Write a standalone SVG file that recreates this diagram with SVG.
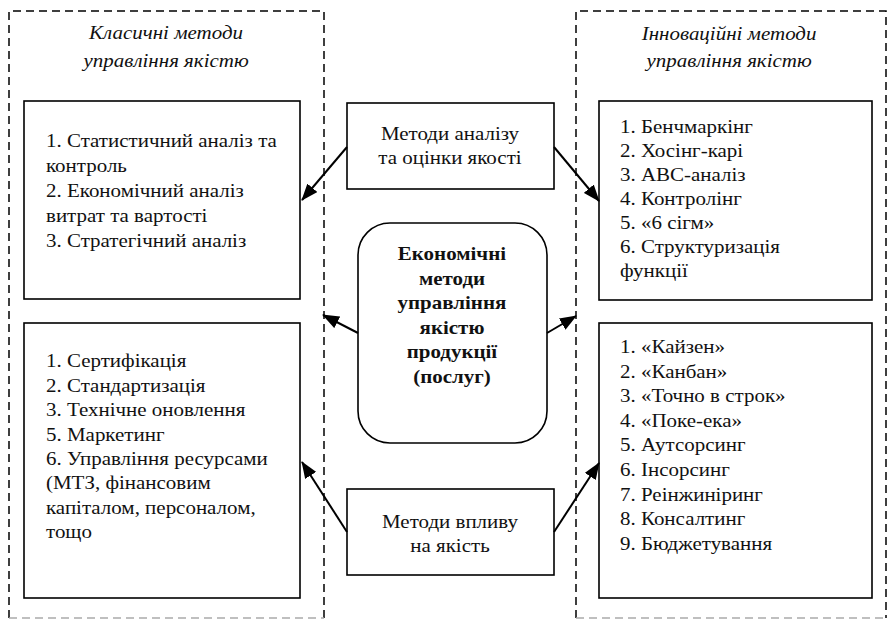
<svg xmlns="http://www.w3.org/2000/svg" width="889" height="619" viewBox="0 0 889 619">
<defs>
<style>
.tx{font-family:"Liberation Serif","Times New Roman",serif;font-size:18px;fill:#111}
text{transform-box:fill-box;transform-origin:0% 50%;transform:scaleX(1.165)}
.i{font-style:italic;text-anchor:middle;transform-origin:50% 50%}
.c{text-anchor:middle;transform-origin:50% 50%}
.b{font-weight:bold;text-anchor:middle;transform-origin:50% 50%}
.box{fill:#fff;stroke:#000;stroke-width:1.6}
.dash{fill:none;stroke:#000;stroke-width:1.5;stroke-dasharray:8 5}
.dashg{fill:none;stroke:#aaa;stroke-width:1.5;stroke-dasharray:8 5}
.arr{fill:none;stroke:#000;stroke-width:2;marker-end:url(#ah)}
</style>
<marker id="ah" markerUnits="userSpaceOnUse" markerWidth="17" markerHeight="13" refX="16" refY="6.5" orient="auto">
<path d="M0,0 L17,6.5 L0,13 Z" fill="#000"/>
</marker>
</defs>
<g class="tx">
<g id="classic-container">
<path class="dash" d="M9,618 V11 H324 V618"/>
<path class="dashg" d="M9,618 H324"/>
<text class="i" x="166" y="39">Класичні методи</text>
<text class="i" x="166" y="67">управління якістю</text>
</g>
<g id="innov-container">
<path class="dash" d="M576,618 V11 H886 V618"/>
<path class="dashg" d="M576,618 H886"/>
<text class="i" x="729" y="40">Інноваційні методи</text>
<text class="i" x="729" y="67">управління якістю</text>
</g>
<g id="classic-analysis">
<rect class="box" x="24" y="101" width="276" height="198"/>
<text x="46" y="147">1. Статистичний аналіз та</text>
<text x="46" y="172">контроль</text>
<text x="46" y="197">2. Економічний аналіз</text>
<text x="46" y="222">витрат та вартості</text>
<text x="46" y="247">3. Стратегічний аналіз</text>
</g>
<g id="classic-impact">
<rect class="box" x="24" y="323" width="276" height="275"/>
<text x="46" y="367">1. Сертифікація</text>
<text x="46" y="392">2. Стандартизація</text>
<text x="46" y="416">3. Технічне оновлення</text>
<text x="46" y="441">5. Маркетинг</text>
<text x="46" y="465">6. Управління ресурсами</text>
<text x="46" y="489">(МТЗ, фінансовим</text>
<text x="46" y="514">капіталом, персоналом,</text>
<text x="46" y="538">тощо</text>
</g>
<g id="innov-analysis">
<rect class="box" x="599" y="101" width="273" height="199"/>
<text x="620" y="133">1. Бенчмаркінг</text>
<text x="620" y="157">2. Хосінг-карі</text>
<text x="620" y="181">3. АВС-аналіз</text>
<text x="620" y="205">4. Контролінг</text>
<text x="620" y="229">5. «6 сігм»</text>
<text x="620" y="253">6. Структуризація</text>
<text x="620" y="277">функції</text>
</g>
<g id="innov-impact">
<rect class="box" x="599" y="323" width="273" height="275"/>
<text x="620" y="353">1. «Кайзен»</text>
<text x="620" y="378">2. «Канбан»</text>
<text x="620" y="402">3. «Точно в строк»</text>
<text x="620" y="427">4. «Поке-ека»</text>
<text x="620" y="451">5. Аутсорсинг</text>
<text x="620" y="476">6. Інсорсинг</text>
<text x="620" y="501">7. Реінжиніринг</text>
<text x="620" y="525">8. Консалтинг</text>
<text x="620" y="550">9. Бюджетування</text>
</g>
<g id="analysis-methods">
<rect class="box" x="347" y="103" width="207" height="86"/>
<text class="c" x="450" y="140">Методи аналізу</text>
<text class="c" x="450" y="164">та оцінки якості</text>
</g>
<g id="impact-methods">
<rect class="box" x="347" y="489" width="207" height="86"/>
<text class="c" x="450" y="528">Методи впливу</text>
<text class="c" x="450" y="552">на якість</text>
</g>
<g id="center">
<rect class="box" x="358" y="223" width="189" height="220" rx="32" ry="32"/>
<text class="b" x="452" y="260">Економічні</text>
<text class="b" x="452" y="285">методи</text>
<text class="b" x="452" y="309">управління</text>
<text class="b" x="452" y="334">якістю</text>
<text class="b" x="452" y="358">продукції</text>
<text class="b" x="452" y="383">(послуг)</text>
</g>
<g id="connectors">
<line class="arr" x1="347" y1="147" x2="302" y2="200"/>
<line class="arr" x1="554" y1="147" x2="599" y2="201"/>
<line class="arr" x1="358" y1="333" x2="323" y2="315"/>
<line class="arr" x1="547" y1="333" x2="576" y2="316"/>
<line class="arr" x1="347" y1="532" x2="302" y2="462"/>
<line class="arr" x1="554" y1="532" x2="599" y2="463"/>
</g>
</g>
</svg>
